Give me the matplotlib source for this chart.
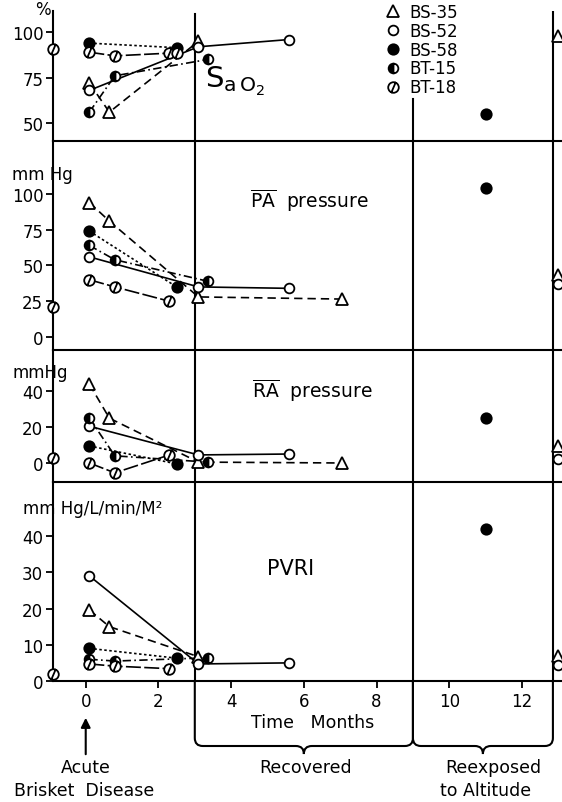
import numpy as np
import matplotlib.pyplot as plt
from matplotlib.lines import Line2D
from matplotlib.path import Path
from matplotlib.patches import PathPatch
from matplotlib.transforms import blended_transform_factory

nan = np.nan

# months after onset, shared by the four panels
bs35_x = [0.1, 0.65, 3.1, 7.05]
bs52_x = [0.1, 3.1, 5.6]
bs58_x = [0.1, 2.5]
bt15_x = [0.1, 0.8, 3.35]
bt18_x = [0.1, 0.8, 2.3, 2.5]
bt18_pre_x = -0.9
bs58_reexp_x = 11
bs_reexp_x = 13

# SaO2 (%)
sao2_bs35 = [72, 56, 95, nan]
sao2_bs52 = [68, 92, 96]
sao2_bs58 = [94, 91.5]
sao2_bt15 = [56, 76, 85]
sao2_bt18 = [89, 87, 88.5, 88.5]
sao2_bt18_pre = 90.5
sao2_reexp = [55, 98, nan]      # BS-58, BS-35, BS-52

# mean PA pressure (mm Hg)
pa_bs35 = [94, 81, 28, 26.5]
pa_bs52 = [56, 35, 34]
pa_bs58 = [74, 35]
pa_bt15 = [64, 54, 39]
pa_bt18 = [40, 35, 25, nan]
pa_bt18_pre = 21
pa_reexp = [104, 43, 37]

# mean RA pressure (mm Hg)
ra_bs35 = [44, 25, 0.5, 0]
ra_bs52 = [20.5, 4.5, 5]
ra_bs58 = [9.5, -0.5]
ra_bt15 = [25, 4, 0.5]
ra_bt18 = [0, -5.5, 4.5, nan]
ra_bt18_pre = 2.7
ra_reexp = [25, 9.5, 2.5]

# PVRI (mm Hg/L/min/M2)
pvri_bs35 = [19.6, 15, 6.7, nan]
pvri_bs52 = [29, 4.7, 5]
pvri_bs58 = [9, 6.3]
pvri_bt15 = [6, 5.5, 6.4]
pvri_bt18 = [4.7, 4.1, 3.4, nan]
pvri_bt18_pre = 2
pvri_reexp = [42, 6.8, 4.5]

names = ['BS-35', 'BS-52', 'BS-58', 'BT-15', 'BT-18']

W, H = 562, 803


def fy(py):
    return 1 - py / H


slash = Path.make_compound_path(Path.unit_circle(),
                                Path([(-0.45, -1.05), (0.45, 1.05)]))

styles = {
    'BS-35': dict(marker='^', ms=8.5, mfc='white', ls=(0, (5, 3))),
    'BS-52': dict(marker='o', ms=7, mfc='white', ls='-'),
    'BS-58': dict(marker='o', ms=7.5, mfc='black', ls=(0, (1.5, 1.5))),
    'BT-15': dict(marker='o', ms=7, mfc='black', fillstyle='left',
                  markerfacecoloralt='white', ls=(0, (5, 2, 1, 2))),
    'BT-18': dict(marker=slash, ms=8, mfc='white', ls=(0, (9, 2))),
}

panels = [
    dict(px=(12, 142), ylim=(40.1, 111.7), ticks=[50, 75, 100],
         ys=[sao2_bs35, sao2_bs52, sao2_bs58, sao2_bt15, sao2_bt18],
         pre=sao2_bt18_pre, reexp=sao2_reexp),
    dict(px=(142, 351), ylim=(-9.1, 137), ticks=[0, 25, 50, 75, 100],
         ys=[pa_bs35, pa_bs52, pa_bs58, pa_bt15, pa_bt18],
         pre=pa_bt18_pre, reexp=pa_reexp),
    dict(px=(351, 483), ylim=(-10.6, 63), ticks=[0, 20, 40],
         ys=[ra_bs35, ra_bs52, ra_bs58, ra_bt15, ra_bt18],
         pre=ra_bt18_pre, reexp=ra_reexp),
    dict(px=(483, 682), ylim=(0, 54.9), ticks=[0, 10, 20, 30, 40],
         ys=[pvri_bs35, pvri_bs52, pvri_bs58, pvri_bt15, pvri_bt18],
         pre=pvri_bt18_pre, reexp=pvri_reexp),
]
xs = [bs35_x, bs52_x, bs58_x, bt15_x, bt18_x]

plt.rcParams['font.family'] = ['DejaVu Sans']
fig = plt.figure(figsize=(W / 100, H / 100), dpi=100)
left_px = 53
lw = 1.2

axes = []
for i, p in enumerate(panels):
    top, bot = p['px']
    ax = fig.add_axes([left_px / W, fy(bot), 1 - left_px / W, (bot - top) / H])
    ax.patch.set_alpha(0)
    ax.set_xlim(-0.9, 13.1)
    ax.set_ylim(*p['ylim'])
    for s in ['top', 'right']:
        ax.spines[s].set_visible(False)
    for s in ['left', 'bottom']:
        ax.spines[s].set_linewidth(1.5)
    ax.set_yticks(p['ticks'])
    ax.tick_params(axis='y', direction='out', length=5, width=1.3,
                   labelsize=12, pad=2)
    if i < 3:
        ax.set_xticks([])

    # vertical dividers
    if i == 0:
        ax.axvline(3, ymax=0.977, color='black', lw=1.5)
        ax.axvline(9, ymax=0.323, color='black', lw=1.5)
    else:
        ax.axvline(3, color='black', lw=1.5)
        ax.axvline(9, color='black', lw=1.5)
    ax.axvline(12.85, color='black', lw=1.5)

    for name, x, y in zip(names, xs, p['ys']):
        st = dict(styles[name])
        ls = st.pop('ls')
        ax.plot(x, y, color='black', lw=lw, ls=ls, zorder=2)
        ax.plot(x, y, color='black', ls='none', mec='black', mew=1.3,
                zorder=4, clip_on=False, **st)

    st = dict(styles['BT-18'])
    st.pop('ls')
    ax.plot([bt18_pre_x], [p['pre']], ls='none', color='black', mec='black',
            mew=1.3, zorder=4, clip_on=False, **st)

    r = p['reexp']
    for name, x, y in [('BS-58', bs58_reexp_x, r[0]),
                       ('BS-35', bs_reexp_x, r[1]),
                       ('BS-52', bs_reexp_x, r[2])]:
        st = dict(styles[name])
        st.pop('ls')
        ax.plot([x], [y], ls='none', color='black', mec='black', mew=1.3,
                zorder=4, clip_on=False, **st)
    axes.append(ax)

ax4 = axes[-1]
ax4.set_xticks(range(0, 13, 2))
ax4.tick_params(axis='x', direction='out', length=5, width=1.3,
                labelsize=12, pad=3)

# panel titles and units
fig.text(205 / W, fy(88), r'$\mathregular{S_{a\,O_2}}$', fontsize=21,
         va='baseline')
fig.text(250 / W, fy(208), r'$\overline{\mathrm{PA}}$  pressure',
         fontsize=13.5, va='baseline')
fig.text(252 / W, fy(398), r'$\overline{\mathrm{RA}}$  pressure',
         fontsize=13.5, va='baseline')
fig.text(267 / W, fy(575), 'PVRI', fontsize=15, va='baseline')

fig.text(43 / W, fy(10), '%', fontsize=12, ha='center', va='center')
fig.text(12 / W, fy(180), 'mm Hg', fontsize=12, va='baseline')
fig.text(12 / W, fy(378), 'mmHg', fontsize=12, va='baseline')
fig.text(23 / W, fy(514), 'mm Hg/L/min/M²', fontsize=12, va='baseline')

# legend
handles = []
for name in names:
    st = dict(styles[name])
    st.pop('ls')
    handles.append(Line2D([], [], ls='none', color='black', mec='black',
                          mew=1.3, **st))
fig.legend(handles, names, loc='upper left',
           bbox_to_anchor=(386 / W, fy(4)), frameon=False, fontsize=12,
           labelspacing=0.05, handlelength=0.8, handletextpad=0.6,
           borderpad=0, borderaxespad=0)

# braces and captions below the time axis
trans = blended_transform_factory(ax4.transData, fig.transFigure)


def brace(x0, x1):
    xm = (x0 + x1) / 2
    rx = 0.22
    ytop, yh, ytip, ry = fy(682), fy(747), fy(755), 8 / H
    verts = [(x0, ytop), (x0, yh + ry), (x0, yh), (x0 + rx, yh),
             (xm - rx, yh), (xm, yh), (xm, ytip), (xm, yh), (xm + rx, yh),
             (x1 - rx, yh), (x1, yh), (x1, yh + ry), (x1, ytop)]
    codes = [Path.MOVETO, Path.LINETO, Path.CURVE3, Path.CURVE3,
             Path.LINETO, Path.CURVE3, Path.CURVE3, Path.CURVE3, Path.CURVE3,
             Path.LINETO, Path.CURVE3, Path.CURVE3, Path.LINETO]
    fig.add_artist(PathPatch(Path(verts, codes), transform=trans,
                             fill=False, lw=1.5, ec='black'))


brace(3, 9)
brace(9, 12.85)

ax4.annotate('', xy=(0, fy(716)), xycoords=trans, xytext=(0, fy(758)),
             textcoords=trans,
             arrowprops=dict(arrowstyle='-|>', lw=1.5, color='black',
                             mutation_scale=14))
ax4.text(0, fy(768), 'Acute', transform=trans, ha='center', va='center',
         fontsize=12.5)
ax4.text(-0.05, fy(791), 'Brisket  Disease', transform=trans, ha='center',
         va='center', fontsize=12.5)
ax4.text(6.25, fy(723), 'Time   Months', transform=trans, ha='center',
         va='center', fontsize=12.5)
ax4.text(6.05, fy(768), 'Recovered', transform=trans, ha='center',
         va='center', fontsize=12.5)
ax4.text(11.2, fy(768), 'Reexposed', transform=trans, ha='center',
         va='center', fontsize=12.5)
ax4.text(11.0, fy(791), 'to Altitude', transform=trans, ha='center',
         va='center', fontsize=12.5)

fig.savefig('out.png', dpi=100)
